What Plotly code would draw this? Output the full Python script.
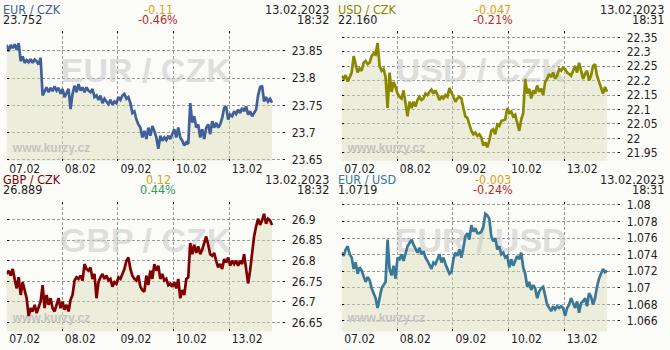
import numpy as np
import plotly.graph_objects as go

# ---------------- data ----------------
day_labels = ["07.02", "08.02", "09.02", "10.02", "13.02"]
day_ticks = [0, 1, 2, 3, 4]

names = ["EUR / CZK", "USD / CZK", "GBP / CZK", "EUR / USD"]
last_values = ["23.752", "22.160", "26.889", "1.0719"]
changes = ["-0.11", "-0.047", "0.12", "-0.003"]
change_pcts = ["-0.46%", "-0.21%", "0.44%", "-0.24%"]
dates = ["13.02.2023", "13.02.2023", "13.02.2023", "13.02.2023"]
times_str = ["18:32", "18:31", "18:32", "18:31"]
end_hours = [4 * 24 + 18 + 32 / 60, 4 * 24 + 18 + 31 / 60, 4 * 24 + 18 + 32 / 60, 4 * 24 + 18 + 31 / 60]

eur_czk = [
    23.861, 23.849, 23.861, 23.855, 23.862, 23.852, 23.864, 23.831, 23.840, 23.828,
    23.833, 23.829, 23.835, 23.828, 23.834, 23.831, 23.825, 23.837, 23.768, 23.777,
    23.783, 23.774, 23.782, 23.776, 23.785, 23.777, 23.782, 23.771, 23.780, 23.765,
    23.774, 23.780, 23.743, 23.771, 23.786, 23.774, 23.789, 23.777, 23.783, 23.774,
    23.783, 23.777, 23.774, 23.780, 23.765, 23.768, 23.760, 23.768, 23.754, 23.762,
    23.757, 23.752, 23.760, 23.751, 23.757, 23.754, 23.765, 23.760, 23.768, 23.771,
    23.762, 23.765, 23.754, 23.736, 23.739, 23.724, 23.715, 23.709, 23.691,
    23.703, 23.688, 23.709, 23.694, 23.712, 23.703, 23.691, 23.670, 23.694, 23.685,
    23.691, 23.686, 23.694, 23.688, 23.697, 23.706, 23.691, 23.709, 23.691, 23.685,
    23.676, 23.682, 23.679, 23.754, 23.718, 23.730, 23.709, 23.715, 23.691, 23.706,
    23.688, 23.709, 23.715, 23.697, 23.721, 23.709, 23.718, 23.709, 23.715, 23.727,
    23.745, 23.748, 23.724, 23.733, 23.730, 23.739, 23.734, 23.742, 23.736, 23.745,
    23.739, 23.748, 23.733, 23.739, 23.730, 23.736, 23.742, 23.768, 23.783, 23.786,
    23.757, 23.765, 23.757, 23.762, 23.755,
]

usd_czk = [
    22.217, 22.206, 22.219, 22.197, 22.212, 22.228, 22.285, 22.251, 22.228, 22.242,
    22.234, 22.262, 22.268, 22.257, 22.262, 22.285, 22.294, 22.290, 22.330, 22.251,
    22.234, 22.240, 22.212, 22.105, 22.228, 22.161, 22.195, 22.178, 22.155, 22.144,
    22.138, 22.166, 22.116, 22.076, 22.127, 22.105, 22.127, 22.110, 22.133, 22.144,
    22.133, 22.138, 22.155, 22.150, 22.161, 22.169, 22.155, 22.166, 22.150, 22.133,
    22.144, 22.138, 22.150, 22.144, 22.174, 22.161, 22.144, 22.127, 22.138, 22.144,
    22.138, 22.105, 22.076, 22.071, 22.048, 22.026, 22.014, 22.020, 22.009,
    22.014, 22.003, 21.975, 21.986, 21.969, 21.992, 22.026, 22.031, 22.014, 22.048,
    22.043, 22.060, 22.062, 22.065, 22.105, 22.088, 22.093, 22.076, 22.082, 22.054,
    22.026, 22.065, 22.088, 22.206, 22.155, 22.172, 22.138, 22.166, 22.155, 22.183,
    22.161, 22.172, 22.150, 22.195, 22.206, 22.223, 22.212, 22.228, 22.206, 22.217,
    22.240, 22.234, 22.245, 22.240, 22.228, 22.223, 22.217, 22.234, 22.251, 22.228,
    22.262, 22.234, 22.206, 22.223, 22.234, 22.200, 22.217, 22.251, 22.257, 22.217,
    22.195, 22.172, 22.155, 22.178, 22.161,
]

gbp_czk = [
    26.768, 26.776, 26.764, 26.780, 26.756, 26.733, 26.760, 26.717, 26.748, 26.725,
    26.709, 26.666, 26.685, 26.677, 26.693, 26.673, 26.689, 26.701, 26.741, 26.685,
    26.717, 26.693, 26.709, 26.685, 26.677, 26.693, 26.709, 26.685, 26.701, 26.681,
    26.693, 26.677, 26.705, 26.717, 26.752, 26.760, 26.756, 26.764, 26.752, 26.792,
    26.780, 26.776, 26.784, 26.756, 26.768, 26.709, 26.748, 26.760, 26.768, 26.756,
    26.764, 26.752, 26.756, 26.737, 26.748, 26.744, 26.760, 26.756, 26.768, 26.780,
    26.800, 26.808, 26.780, 26.764, 26.756, 26.752, 26.764, 26.737, 26.729,
    26.725, 26.764, 26.741, 26.776, 26.756, 26.792, 26.776, 26.788, 26.756, 26.768,
    26.752, 26.756, 26.741, 26.745, 26.737, 26.748, 26.733, 26.756, 26.709, 26.729,
    26.717, 26.756, 26.760, 26.843, 26.816, 26.839, 26.819, 26.835, 26.816, 26.827,
    26.843, 26.859, 26.839, 26.816, 26.812, 26.819, 26.800, 26.784, 26.792, 26.780,
    26.804, 26.796, 26.808, 26.788, 26.800, 26.792, 26.800, 26.788, 26.800, 26.792,
    26.816, 26.784, 26.745, 26.776, 26.827, 26.859, 26.883, 26.902, 26.887, 26.898,
    26.914, 26.890, 26.902, 26.898, 26.887,
]

eur_usd = [
    1.07424, 1.07385, 1.07463, 1.07502, 1.07404, 1.07365, 1.07228, 1.07306, 1.07169, 1.07247,
    1.07208, 1.07149, 1.07071, 1.07130, 1.07091, 1.06993, 1.06934, 1.06875, 1.06757, 1.06875,
    1.06993, 1.07032, 1.07071, 1.07581, 1.07228, 1.07149, 1.07267, 1.07110, 1.07365, 1.07345,
    1.07404, 1.07326, 1.07424, 1.07502, 1.07541, 1.07581, 1.07522, 1.07463, 1.07424, 1.07483,
    1.07404, 1.07443, 1.07365, 1.07326, 1.07267, 1.07228, 1.07306, 1.07287, 1.07345, 1.07404,
    1.07306, 1.07365, 1.07287, 1.07228, 1.07169, 1.07189, 1.07345, 1.07424, 1.07385, 1.07463,
    1.07365, 1.07483, 1.07620, 1.07659, 1.07581, 1.07757, 1.07679, 1.07718, 1.07659,
    1.07659, 1.07679, 1.07737, 1.07894, 1.07875, 1.07835, 1.07620, 1.07561, 1.07600, 1.07463,
    1.07502, 1.07404, 1.07424, 1.07365, 1.07385, 1.07247, 1.07345, 1.07267, 1.07326, 1.07385,
    1.07345, 1.07424, 1.07247, 1.07169, 1.07012, 1.07071, 1.06973, 1.07032, 1.06993, 1.06875,
    1.06953, 1.06993, 1.07012, 1.06895, 1.06797, 1.06757, 1.06718, 1.06777, 1.06738, 1.06777,
    1.06757, 1.06777, 1.06757, 1.06659, 1.06757, 1.06797, 1.06875, 1.06816, 1.06757, 1.06836,
    1.06698, 1.06816, 1.06836, 1.06875, 1.06777, 1.06934, 1.06895, 1.06797, 1.06875, 1.07012,
    1.07110, 1.07169, 1.07228, 1.07189, 1.07208,
]

yticks_eur_czk = [23.65, 23.7, 23.75, 23.8, 23.85]
yticks_usd_czk = [21.95, 22.0, 22.05, 22.1, 22.15, 22.2, 22.25, 22.3, 22.35]
yticks_gbp_czk = [26.65, 26.7, 26.75, 26.8, 26.85, 26.9]
yticks_eur_usd = [1.066, 1.068, 1.07, 1.072, 1.074, 1.076, 1.078, 1.08]

series = [eur_czk, usd_czk, gbp_czk, eur_usd]
yticks = [yticks_eur_czk, yticks_usd_czk, yticks_gbp_czk, yticks_eur_usd]

# ---------------- style / layout ----------------
W, H = 670, 350
FONT = "DejaVu Sans Condensed, Liberation Sans, Arial, sans-serif"
BG = "#fbfbf8"
line_colors = ["#41609a", "#8a8800", "#800000", "#3a7898"]
pct_colors = ["#c0282a", "#c0282a", "#2e9960", "#c0282a"]
change_color = "#e0a018"
y_ranges = [[23.648, 23.886], [21.922, 22.371], [26.6287, 26.9433], [1.06474, 1.08039]]
offsets = [(0, 0), (335, 0), (0, 175), (335, 175)]
PX0, PX1, PY0, PY1 = 6.7, 284.7, 29, 162


def fmt(v):
    return ("%.3f" % v).rstrip("0").rstrip(".")


fig = go.Figure()
layout = dict(
    width=W, height=H, margin=dict(l=0, r=0, t=0, b=0),
    paper_bgcolor=BG, plot_bgcolor=BG, showlegend=False,
    font=dict(family=FONT, size=12, color="#222222"),
)
annotations = []

for i in range(4):
    k = "" if i == 0 else str(i + 1)
    ox, oy = offsets[i]
    vals = series[i]
    t = np.linspace(0, end_hours[i] / 24.0, len(vals))
    lo, hi = y_ranges[i]
    xa, ya = "x" + k, "y" + k

    # area fill
    fig.add_trace(go.Scatter(x=t, y=vals, mode="lines", line=dict(width=0),
                             fill="tozeroy", fillcolor="rgba(214,218,176,0.42)",
                             xaxis=xa, yaxis=ya, hoverinfo="skip"))
    # watermarks (between fill and line)
    fig.add_trace(go.Scatter(x=[2.5], y=[lo + 0.677 * (hi - lo)], mode="text",
                             text=["<b>%s</b>" % names[i]], textposition="middle center",
                             textfont=dict(family="Liberation Sans, Arial", size=34,
                                           color="rgba(200,200,200,0.58)"),
                             xaxis=xa, yaxis=ya, hoverinfo="skip"))
    fig.add_trace(go.Scatter(x=[0.11], y=[lo + 0.095 * (hi - lo)], mode="text",
                             text=["<b>www.kurzy.cz</b>"], textposition="middle right",
                             textfont=dict(family="Liberation Sans, Arial", size=12,
                                           color="#c4c4c4"),
                             xaxis=xa, yaxis=ya, hoverinfo="skip"))
    # price line
    fig.add_trace(go.Scatter(x=t, y=vals, mode="lines",
                             line=dict(color=line_colors[i], width=2.7),
                             xaxis=xa, yaxis=ya, hoverinfo="skip"))

    xdom = [(ox + PX0) / W, (ox + PX1) / W]
    ydom = [1 - (oy + PY1) / H, 1 - (oy + PY0) / H]
    layout["xaxis" + k] = dict(
        domain=xdom, range=[0, 5], anchor=ya, tickvals=day_ticks, ticktext=day_labels,
        showgrid=True, gridcolor="#9a9a9a", griddash="3px,2px", gridwidth=1,
        zeroline=False, showline=False, ticks="inside", ticklen=2, tickcolor="#000",
        mirror="ticks", ticklabelshift=18, ticklabelstandoff=-1,
        tickfont=dict(family=FONT, size=12, color="#222"), fixedrange=True,
    )
    layout["yaxis" + k] = dict(
        domain=ydom, range=[lo, hi], anchor=xa, side="right",
        tickvals=yticks[i], ticktext=[fmt(v) for v in yticks[i]],
        showgrid=True, gridcolor="#9a9a9a", griddash="3px,2px", gridwidth=1,
        zeroline=False, showline=False, ticks="inside", ticklen=2, tickcolor="#000",
        mirror="ticks", ticklabelstandoff=6,
        tickfont=dict(family=FONT, size=12, color="#222"), fixedrange=True,
    )

    def ann(text, px, py, anchor, color):
        annotations.append(dict(text=text, x=px / W, y=1 - py / H, xref="paper", yref="paper",
                                xanchor=anchor, yanchor="middle", showarrow=False,
                                font=dict(family=FONT, size=12.5, color=color)))

    ann(names[i], ox + 1, oy + 6.2, "left", line_colors[i])
    ann(last_values[i], ox + 1, oy + 16.8, "left", "#222222")
    ann(changes[i], ox + 158, oy + 6.2, "center", change_color)
    ann(change_pcts[i], ox + 158, oy + 16.8, "center", pct_colors[i])
    ann(dates[i], ox + 331, oy + 6.2, "right", "#222222")
    ann(times_str[i], ox + 331, oy + 16.8, "right", "#222222")

layout["annotations"] = annotations
fig.update_layout(**layout)
fig.write_html("out.html")
